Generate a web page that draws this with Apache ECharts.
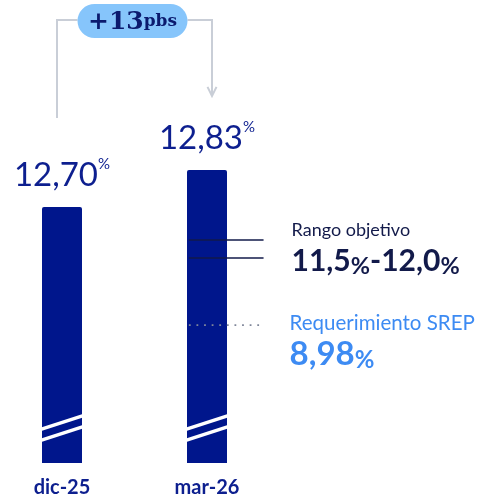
<!DOCTYPE html>
<html><head><meta charset="utf-8">
<script src="https://cdn.jsdelivr.net/npm/echarts@6/dist/echarts.min.js"></script>
<style>html,body{margin:0;padding:0;background:#fff}#c{width:484px;height:494px}</style>
</head><body><div id="c"></div>
<script>
// ---- data ----
const categories = ['dic-25', 'mar-26'];
const ratioValues = [12.70, 12.83];
const rangeLow = 11.5;
const rangeHigh = 12.0;
const srepValue = 8.98;
const changeValue = '+13';
const changeUnit = 'pbs';
const rangeTitle = 'Rango objetivo';
const srepTitle = 'Requerimiento SREP';

const fmt = (v, d) => v.toFixed(d).replace('.', ',');

const NAVY = '#00168c';
const TEXTNAVY = '#0d1f8f';
const DARK = '#121a4a';
const BLUE = '#3d8bf3';
const FONT = 'Lato, "Noto Sans", sans-serif';

// reference lines span (in category-position units: 0 = first bar, 1 = second bar)
const refStart = 0.875, refEnd = 1.39;

const chart = echarts.init(document.getElementById('c'), null, {renderer: 'canvas'});

const refLine = (yIdx, value, lineStyle, endLabel) => ({
  type: 'line', xAxisIndex: 1, yAxisIndex: yIdx, silent: true,
  symbol: 'none', animation: false, z: 5,
  data: [[refStart, value], [refEnd, value]],
  lineStyle: lineStyle,
  endLabel: endLabel
});

chart.setOption({
  animation: false,
  grid: {left: -10.5, width: 290, top: 150, bottom: 31, containLabel: false, outerBoundsMode: 'none'},
  xAxis: [
    {type: 'category', data: categories, boundaryGap: true,
     axisLine: {show: false}, axisTick: {show: false}, splitLine: {show: false},
     axisLabel: {margin: 15, color: TEXTNAVY, fontWeight: 'bold', fontSize: 20, fontFamily: FONT}},
    {type: 'value', min: -0.5, max: 1.5, show: false}
  ],
  yAxis: [
    {type: 'value', min: 11.8, max: 12.9, show: false},
    {type: 'value', min: 5.8, max: 14.5, show: false},
    {type: 'value', min: 0, max: 20.4, show: false}
  ],
  series: [
    {type: 'bar', data: ratioValues, barWidth: 40, xAxisIndex: 0, yAxisIndex: 0,
     itemStyle: {color: NAVY, borderRadius: [2, 2, 0, 0]},
     label: {show: true, position: 'top', distance: 14,
       formatter: p => '{v|' + fmt(p.value, 2) + '}{p|%}',
       rich: {
         v: {fontSize: 33, color: TEXTNAVY, fontFamily: FONT, lineHeight: 36},
         p: {fontSize: 15, color: TEXTNAVY, fontFamily: FONT, lineHeight: 32, verticalAlign: 'top'}
       }}
    },
    refLine(1, rangeHigh, {color: DARK, width: 1.5},
      {show: true, distance: 28, offset: [0, -10], formatter: rangeTitle,
       color: DARK, fontSize: 18, fontFamily: FONT}),
    refLine(1, rangeLow, {color: DARK, width: 1.5},
      {show: true, distance: 28, offset: [0, 3],
       formatter: '{b|' + fmt(rangeLow, 1) + '}{s|%}{b|-' + fmt(rangeHigh, 1) + '}{s|%}',
       rich: {
         b: {fontSize: 30, fontWeight: 'bold', color: DARK, fontFamily: FONT, lineHeight: 34},
         s: {fontSize: 23.5, fontWeight: 'bold', color: DARK, fontFamily: FONT, lineHeight: 30, verticalAlign: 'bottom'}
       }}),
    refLine(2, srepValue, {color: '#7f8699', width: 1.8, type: [1.8, 5.8], cap: 'butt'},
      {show: true, distance: 26, offset: [0, 16],
       formatter: '{t|' + srepTitle + '}\n{b|' + fmt(srepValue, 2) + '}{s|%}',
       rich: {
         t: {fontSize: 20.5, color: BLUE, fontFamily: FONT, lineHeight: 26},
         b: {fontSize: 33, fontWeight: 'bold', color: BLUE, fontFamily: FONT, lineHeight: 36},
         s: {fontSize: 24, fontWeight: 'bold', color: BLUE, fontFamily: FONT, lineHeight: 30, verticalAlign: 'bottom'}
       }})
  ]
});

// ---- annotations computed from the chart's own scales ----
const pD = chart.convertToPixel({seriesIndex: 0}, [0, ratioValues[0]]);
const pM = chart.convertToPixel({seriesIndex: 0}, [1, ratioValues[1]]);
const base = chart.convertToPixel({seriesIndex: 0}, [0, 11.8])[1];
const half = 22;
const GREY = '#c9ced7';
const brY = 20;
const lx = pD[0] - 5, rx = pM[0] + 5;
const pillW = 110, pillH = 34, pillCx = (lx + rx) / 2 - 2;

const graphics = [
  {type: 'polyline', z: 100, shape: {points: [[lx, pD[1] - 89], [lx, brY], [pillCx - pillW / 2, brY]]},
   style: {stroke: GREY, lineWidth: 2, fill: null}},
  {type: 'polyline', z: 100, shape: {points: [[pillCx + pillW / 2, brY], [rx, brY], [rx, pM[1] - 74]]},
   style: {stroke: GREY, lineWidth: 2, fill: null}},
  {type: 'polyline', z: 100, shape: {points: [[rx - 4.5, pM[1] - 83], [rx, pM[1] - 74], [rx + 4.5, pM[1] - 83]]},
   style: {stroke: GREY, lineWidth: 2, fill: null}},
  {type: 'rect', z: 100, shape: {x: pillCx - pillW / 2, y: brY - 16, width: pillW, height: pillH, r: 17},
   style: {fill: '#86c5fb'}},
  {type: 'text', z: 101, x: pillCx, y: brY + 2,
   style: {text: '{a|' + changeValue + '}{b|' + changeUnit + '}', align: 'center', verticalAlign: 'middle',
     rich: {
       a: {fontSize: 25, fontWeight: 'bold', fontFamily: '"DejaVu Serif", serif', fill: '#0b1a6e', lineHeight: 30},
       b: {fontSize: 17, fontWeight: 'bold', fontFamily: '"DejaVu Serif", serif', fill: '#0b1a6e', lineHeight: 26}
     }}}
];
[pD[0], pM[0]].forEach(cx => {
  [[34, 47], [23, 36]].forEach(([l, r]) => {
    graphics.push({type: 'line', z: 100, shape: {x1: cx - half, y1: base - l + 0.7, x2: cx + half, y2: base - r - 0.7},
      style: {stroke: '#ffffff', lineWidth: 3.5}});
  });
});
chart.setOption({graphic: graphics});
</script>
</body></html>
